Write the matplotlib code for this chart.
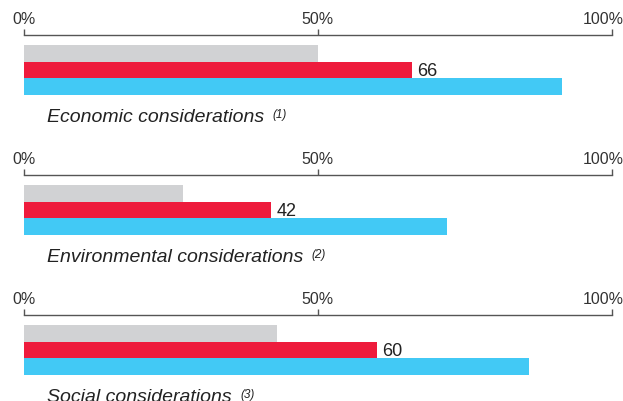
import matplotlib.pyplot as plt
from matplotlib.transforms import ScaledTranslation

plt.rcParams['font.family'] = ['Liberation Sans', 'DejaVu Sans']

categories = ['Economic considerations', 'Environmental considerations', 'Social considerations']
notes = ['(1)', '(2)', '(3)']
gray_vals = [50, 27, 43]
red_vals = [66, 42, 60]
blue_vals = [91.5, 72, 86]
tick_vals = [0, 50, 100]
tick_labels = ['0%', '50%', '100%']

colors = ['#d1d2d4', '#ee1b3c', '#42c9f5']
W, H = 623, 401
fig = plt.figure(figsize=(W / 100, H / 100), dpi=100)

for i in range(3):
    top = 35 + 140 * i
    ax = fig.add_axes([24 / W, 1 - (top + 60) / H, 587.5 / W, 60 / H])
    vals = [gray_vals[i], red_vals[i], blue_vals[i]]
    ax.barh([0, 1, 2], vals, height=1.0, color=colors, linewidth=0)
    ax.set_xlim(0, 100)
    ax.set_ylim(2.5, -1.1)
    ax.text(red_vals[i] + 1.0, 1.12, str(red_vals[i]), va='center', ha='left',
            fontsize=13, color='#222222')
    for s in ['bottom', 'left', 'right']:
        ax.spines[s].set_visible(False)
    ax.spines['top'].set_color('#555555')
    ax.spines['top'].set_linewidth(1.0)
    ax.set_yticks([])
    ax.xaxis.tick_top()
    ax.set_xticks(tick_vals)
    ax.set_xticklabels(tick_labels)
    ax.tick_params(axis='x', direction='out', length=4.5, width=1.0, color='#555555',
                   labelsize=11.5, labelcolor='#333333', pad=1)
    last = ax.get_xticklabels()[-1]
    last.set_transform(last.get_transform() + ScaledTranslation(-8 / 100, 0, fig.dpi_scale_trans))

    t = fig.text(47 / W, 1 - (118 + 140 * i) / H, categories[i], fontsize=14,
                 style='italic', color='#222222', va='center', ha='left')
    ax.annotate(notes[i], xy=(1, 0.7), xycoords=t, xytext=(6, 0),
                textcoords='offset points', fontsize=8.5, style='italic',
                color='#222222', va='center', ha='left')

fig.savefig('out.png', dpi=100)
